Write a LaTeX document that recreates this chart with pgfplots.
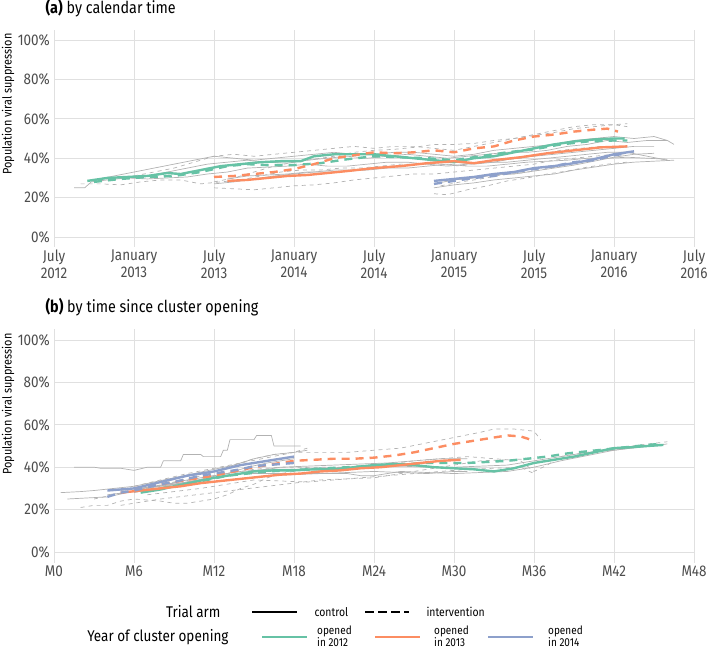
\documentclass[border=0pt]{standalone}
\usepackage{pgfplots}
\pgfplotsset{compat=1.18}
\usepackage{fontspec}
\setmainfont{Fira Sans}[FakeStretch=0.87]
\definecolor{cgreen}{HTML}{66C2A5}
\definecolor{corange}{HTML}{FC8D62}
\definecolor{cblue}{HTML}{8DA0CB}
\definecolor{tickgray}{HTML}{4D4D4D}
\tikzset{
  grayl/.style={color=black!30, line width=0.7pt},
  grayd/.style={color=black!30, line width=0.7pt, dash pattern=on 4pt off 4pt},
  colsolid/.style={line width=2.4pt},
  coldash/.style={line width=2.4pt, dash pattern=on 8pt off 6pt},
}
\pgfplotsset{panel/.style={
  scale only axis, width=640pt,
  xmin=0, xmax=48, ymin=-5, ymax=105,
  xtick={0,6,...,48}, ytick={0,20,...,100},
  yticklabels={0\%,20\%,40\%,60\%,80\%,100\%},
  axis line style={draw=none}, major tick length=0pt,
  grid=major, major grid style={color=black!12, line width=0.7pt},
  tick label style={font=\fontsize{15.5}{16.5}\selectfont, text=tickgray},
  yticklabel style={anchor=east, inner sep=0pt, xshift=-4pt},
  xticklabel style={anchor=north, inner sep=0pt, yshift=-3pt, align=center},
  every axis plot/.append style={no markers, line join=round},
}}
\begin{document}
\begin{tikzpicture}
\path[use as bounding box] (0,0) rectangle (709pt,651pt);
% ---------------- Panel (a)
\begin{axis}[panel, at={(54pt,404pt)}, anchor=south west, height=217pt,
  xticklabels={{July\\2012},{January\\2013},{July\\2013},{January\\2014},{July\\2014},{January\\2015},{July\\2015},{January\\2016},{July\\2016}}]
% gray cluster lines
\addplot[grayl] coordinates {(1.5,25)(2.3,25)(2.8,28)(4,29)(5.5,30)(7,31)(8.5,33)(10,35)(11.5,37)(13,38)(14.5,39)(16,38)(17.5,37.5)(19,39)(20.5,40)(22,41)(23.5,40)(25,41)(26.5,42)(28,41)(29.5,40)(31,41)(32.5,42)(34,43)(35.5,43)(37,44)(38.5,46)(40,47)(41.5,49)(43,48)(44.5,49)(46,49)(46.5,47)};
\addplot[grayl] coordinates {(3,29)(4.5,31)(6,33)(7.5,35)(9,37)(10.5,39)(12,41)(13.5,40)(15,39)(16.5,40)(18,41)(19.5,42)(21,43)(22.5,42)(24,42)(25.5,43)(27,43)(28.5,42)(30,41)(31.5,42)(33,44)(34.5,45)(36,46)(37.5,47)(39,49)(40.5,50)(42,51)(43.5,50)(45,51)(46,49)};
\addplot[grayl] coordinates {(4,30)(5.5,30)(7,29.5)(8.5,30)(10,30.5)(11.5,32)(13,33)(14.5,35)(16,35.5)(17.5,36)(19,37)(20.5,36)(22,36)(23.5,37)(25,38)(26.5,38)(28,37)(29.5,36)(31,37)(32.5,38)(34,38)(35.5,39)(37,40)(38.5,41)(40,42)(41.5,43)(43,43)(44.5,41)(46,39)};
\addplot[grayd] coordinates {(2,27)(3.5,27)(5,26.5)(6.5,28)(8,29)(9.5,29)(11,27)(12.5,28)(14,29)(15.5,31)(17,33)(18.5,34)(20,34)(21.5,35)(23,35)(24.5,36)(26,37)(27.5,37)(29,37)(30.5,36)(32,38)(33.5,39)(35,40)(36.5,42)(38,44)(39.5,45)(41,46)(42.5,46)};
\addplot[grayd] coordinates {(6,31)(7.5,33)(9,35)(10.5,38)(12,41)(13.5,42)(15,41)(16.5,42)(18,43)(19.5,44)(21,45)(22.5,46)(24,45)(25.5,46)(27,46)(28.5,45)(30,44)(31.5,46)(33,48)(34.5,50)(36,52)(37.5,54)(39,56)(40.5,57)(42,57)(43,56)};
\addplot[grayl] coordinates {(12,27)(13.5,28)(15,29.5)(16.5,31)(18,32)(19.5,33)(21,34)(22.5,34)(24,35)(25.5,36)(27,37)(28.5,37.5)(30,38)(31.5,37)(33,38)(34.5,40)(36,41)(37.5,42)(39,43)(40.5,44)(42,45)(43.5,46)(45,46)};
\addplot[grayl] coordinates {(13,29.5)(14.5,31)(16,31.5)(17.5,32)(19,33)(20.5,33)(22,33.5)(23.5,34)(25,35)(26.5,35)(28,36)(29.5,37)(31,36)(32.5,36)(34,37)(35.5,38)(37,38.5)(38.5,39)(40,40)(41.5,40)(43,40.5)(44.5,40)(46,39.5)};
\addplot[grayd] coordinates {(12,25)(13.5,24.5)(15,24)(16.5,25)(18,26)(19.5,26.5)(21,27.5)(22.5,29)(24,30)(25.5,31)(27,32)(28.5,32)(30,33)(31.5,34)(33,35)(34.5,36)(36,37)(37.5,39)(39,40)(40.5,41)(42,42)};
\addplot[grayd] coordinates {(12,28)(13.5,30)(15,33)(16.5,36)(18,38)(19.5,39.5)(21,41)(22.5,43)(24,44)(25.5,44.5)(27,45.5)(28.5,47)(30,47)(31.5,47.5)(33,49)(34.5,50)(36,51.5)(37.5,53)(39,55)(40.5,56)(42,57)(43,57.5)};
\addplot[grayl] coordinates {(28.5,25)(30,26.5)(31.5,27.5)(33,29)(34.5,30)(36,31)(37.5,32)(39,34)(40.5,35.5)(42,37)(43.5,38)(45,38.5)(46.5,39)};
\addplot[grayl] coordinates {(28.5,27)(30,29)(31.5,30)(33,31.5)(34.5,32)(36,33.5)(37.5,35)(39,36.5)(40.5,38.5)(42,40.5)(43.5,42)(45,42.5)};
\addplot[grayd] coordinates {(28.5,22)(29.5,21.5)(31,24)(32.5,26)(34,28.5)(35.5,30)(37,32)(38.5,33.5)(40,35.5)(41.5,37)(43,38)};
\addplot[grayd] coordinates {(29,26)(30.5,28)(32,29.5)(33.5,31.5)(35,32.5)(36.5,34)(38,36)(39.5,38)(41,40)(42.5,42)(43.5,43)};
% coloured mean lines
\addplot[coldash, cgreen] coordinates {(3,28)(5,29.5)(7,30.5)(9,31)(11,33)(13,36)(14.5,37)(16,36.5)(18,36.5)(20,37.5)(22,39.5)(24,41)(26,40.5)(28,40)(30,39)(32,41)(34,43)(36,44.5)(38,47)(40,48.5)(42,49)(43,49)};
\addplot[colsolid, cgreen] coordinates {(2.5,28.5)(4,30)(5.5,30.5)(7,31)(8.5,32.5)(9.5,32)(11,34)(12.5,36)(14,37)(15.5,38)(17,38.5)(18.5,38.5)(19.5,41)(21,42)(22.5,42)(24,42)(25.5,41)(27,40)(28.5,39)(30,38)(31.5,40)(33,41)(34.5,43)(36,45)(37.5,47)(39,48.5)(40.5,49.5)(42,50)(42.8,50)};
\addplot[coldash, corange] coordinates {(12,30.5)(13.5,31)(15,32)(16.5,33)(18,34.5)(19.5,37)(21,40)(22.5,41.5)(24,43)(25.5,42.5)(27,43)(28.5,44)(30,43)(31.5,45)(33,46)(34.5,49)(36,51)(37.5,52)(39,53.5)(40.5,54.5)(41.5,55)(42.3,53.5)};
\addplot[colsolid, corange] coordinates {(13,28.5)(14.5,29)(16,30)(17.5,31)(19,31.5)(20.5,32.5)(22,33.5)(24,35)(26,36)(28,37.5)(30,38.5)(31.5,37.5)(33,39)(35,40.5)(37,42.5)(39,44)(41,45.5)(43,46)};
\addplot[coldash, cblue] coordinates {(28.5,27)(30,28.5)(31.5,30)(33,31)(34.5,33)(36,34.5)(37.5,36)(39,38)(40.5,39)(42,41.5)(43,42.5)};
\addplot[colsolid, cblue] coordinates {(28.5,28.5)(30,29.5)(31.5,30.5)(33,32)(34.5,33)(36,35)(37.5,36)(39,37.5)(40.5,39.5)(42,42)(43.5,43.5)};
\end{axis}
% ---------------- Panel (b)
\begin{axis}[panel, at={(54pt,88.4pt)}, anchor=south west, height=233.2pt,
  xticklabels={M0,M6,M12,M18,M24,M30,M36,M42,M48}]
\addplot[grayl] coordinates {(1.5,40)(3,40)(3.5,39.5)(5,39.5)(6,38.5)(7,40)(8,40)(8.2,43)(9.5,43)(9.7,46)(11,46)(11.2,45)(12.5,45)(12.7,48)(13,48)(13.2,53)(15,53)(15.2,55)(16.3,55)(16.5,50)(18.5,50)};
\addplot[grayl] coordinates {(0.5,28)(2,28.5)(3,29)(4.5,30)(6,31)(7.5,33)(9,35)(10.5,37)(12,39)(13.5,41)(15,44)(16.5,46)(18,47)(19,48)};
\addplot[grayl] coordinates {(1,25)(2.5,25.5)(4,26)(5.5,28)(7,30)(8.5,31.5)(10,33)(11.5,35)(13,37)(14.5,40)(16,42)(17,43)(18,44)};
\addplot[grayd] coordinates {(2,21)(3,22)(4,22)(5,24)(6,25)(7,24.5)(8,24)(9,23)(10,23)(11,24)(12,25)(13,27)(14,30)(15,32)(16,35)(17,37)(18,38)(19,40)};
\addplot[grayd] coordinates {(3,25)(4.5,27)(6,29)(7.5,31)(9,33)(10.5,35)(12,38)(13.5,41)(15,44)(16.5,46)(18,47)(19,49)};
\addplot[grayl] coordinates {(4,27)(6,28.5)(8,30)(10,31.5)(12,33)(14,34.5)(16,36)(18,36.5)(20,37)(22,37.5)(24,38)(26,37.5)(28,37)(30,38)(31,38)};
\addplot[grayl] coordinates {(5,29)(7,30.5)(9,32)(11,34)(13,36)(15,38)(17,40)(19,40.5)(21,41)(23,41.5)(25,42)(27,43)(29,44)(31,44)};
\addplot[grayd] coordinates {(5,22)(6.5,23.5)(8,25)(10,26.5)(12,28)(14,29.5)(16,31)(18,32.5)(20,34)(22,34.5)(24,35)(26,37)(28,39)(30,41)(32,43)(34,43.5)(36,44)};
\addplot[grayd] coordinates {(6,31)(8,34)(10,37)(12,39.5)(14,42)(16,44.5)(18,47)(20,47)(22,47)(24,48)(26,49)(28,51.5)(30,54)(32,56.5)(33,58)(34.5,58)(36,57)(36.5,53)};
\addplot[grayl] coordinates {(6,28)(8,30.5)(10,33)(12,35)(14,37)(16,37)(18,37)(20,37)(22,37)(23,36)(24,36)(26,38)(28,37.5)(30,37)(32,37.5)(34,38)(36,40)(38,43)(40,45.5)(42,48)(44,49.5)(45,50)(46,51)};
\addplot[grayl] coordinates {(6.5,30)(8.5,32)(10,34)(12,36)(14,38)(16,39)(18,39)(20,39.5)(22,40)(24,40)(26,40.5)(28,40)(30,40)(32,40.5)(34,41)(36,43)(38,45)(40,47)(42,48)(44.5,50)};
\addplot[grayd] coordinates {(7,30)(9,32.5)(11,35)(13,37)(15,39)(17,40)(19,40)(21,40)(23,40)(25,41.5)(27,43)(29,44)(31,45)(33,44)(35,43)(36,38)(37,41)(38,45)(40,47)(42,49)(44,50.5)(46,52)};
\addplot[grayd] coordinates {(7,27)(9,28.5)(11,30)(13,32)(15,34)(17,33.5)(19,33)(21,34)(23,35)(25,36)(27,37)(29,38)(31,39)(33,39.5)(35,40)(36,37)};
% coloured mean lines
\addplot[coldash, cgreen] coordinates {(7,29)(8.5,30.5)(10,32)(11.5,34)(13,36)(14.5,37)(16,38)(17.5,38.5)(19,39)(20.5,39.5)(22,40)(23.5,40.5)(25,41)(26.5,41.5)(28,42)(29.5,42)(31,42)(32.5,42.5)(34,43)(35.5,44)(37,45)(38.5,46.5)(40,47.5)(41.5,48.5)(43,49.5)(44.5,50.5)(45.5,51)};
\addplot[colsolid, cgreen] coordinates {(6.5,28)(8,29.5)(9,31)(10.5,33)(12,35)(13.5,36.5)(15,38)(16.5,38.5)(18,38.5)(19.5,39)(21,39)(22.5,40)(24,41)(25.5,41.5)(27,41)(28.5,40)(30,39.5)(31.5,39)(33,38)(34.5,39.5)(36,42)(37.5,43.5)(39,45)(40.5,47)(42,49)(43.5,49.5)(44.5,50)(45.7,50.5)};
\addplot[coldash, corange] coordinates {(6,30)(7.5,31.5)(9,33)(10.5,34.5)(12,36)(13.5,38)(15,40)(16.5,41.5)(18,43)(19.5,43.5)(21,44)(22.5,44)(24,44.5)(25.5,45.5)(27,47)(28.5,49)(30,51)(31,52)(32,53)(33,54)(34,55)(35,54.5)(36,52.5)};
\addplot[colsolid, corange] coordinates {(5,28)(6.5,29)(8,30)(9.5,31)(11,32.5)(12.5,33.5)(14,34.5)(15.5,35.5)(17,36.5)(18.5,37)(20,38)(21.5,38.5)(23,39.5)(24.5,40)(26,41)(27.5,42)(29,43)(30.5,43.5)};
\addplot[coldash, cblue] coordinates {(4,26)(5,28)(6,29)(7,30.5)(8,32)(9,33)(10,34.5)(11,36)(12,37)(13,38)(14,39)(15,40.5)(16,41)(17,41.5)(18,42)};
\addplot[colsolid, cblue] coordinates {(4,29)(5,29.5)(6,30)(7,31.5)(8,33)(9,34.5)(10,36)(11,37)(12,38)(13,39.5)(14,41)(15,42)(16,43)(17,44)(18,45)};
\end{axis}
% ---------------- Overlay: titles, y labels, legend (pixel coordinates)
\begin{axis}[at={(0pt,0pt)}, anchor=south west, scale only axis, width=709pt, height=651pt,
  hide axis, xmin=0, xmax=709, ymin=0, ymax=651, y dir=reverse, clip=false]
\node[anchor=west, font=\fontsize{16.5}{18}\selectfont] at (axis cs:42,8) {\textbf{(a)} by calendar time};
\node[anchor=west, font=\fontsize{16.5}{18}\selectfont] at (axis cs:42,307) {\textbf{(b)} by time since cluster opening};
\node[rotate=90, anchor=east, font=\fontsize{12.5}{13}\selectfont] at (axis cs:8,30) {Population viral suppression};
\node[rotate=90, anchor=east, font=\fontsize{12.5}{13}\selectfont] at (axis cs:8,330) {Population viral suppression};
\node[anchor=east, font=\fontsize{15.5}{16}\selectfont] at (axis cs:224,612) {Trial arm};
\node[anchor=east, font=\fontsize{15.5}{16}\selectfont] at (axis cs:232,637) {Year of cluster opening};
\addplot[black, line width=2pt] coordinates {(252,612) (297,612)};
\addplot[black, line width=2pt, dash pattern=on 9pt off 4pt] coordinates {(365,612) (409,612)};
\node[anchor=west, font=\fontsize{12}{12.5}\selectfont] at (axis cs:311,612) {control};
\node[anchor=west, font=\fontsize{12}{12.5}\selectfont] at (axis cs:423,612) {intervention};
\addplot[cgreen, line width=2.4pt] coordinates {(262,637) (307,637)};
\addplot[corange, line width=2.4pt] coordinates {(375,637) (420,637)};
\addplot[cblue, line width=2.4pt] coordinates {(488,637) (533,637)};
\node[anchor=west, align=left, inner sep=1pt, font=\fontsize{11.5}{11}\selectfont] at (axis cs:316,636) {opened\\in 2012};
\node[anchor=west, align=left, inner sep=1pt, font=\fontsize{11.5}{11}\selectfont] at (axis cs:433,636) {opened\\in 2013};
\node[anchor=west, align=left, inner sep=1pt, font=\fontsize{11.5}{11}\selectfont] at (axis cs:547,636) {opened\\in 2014};
\end{axis}
\end{tikzpicture}
\end{document}
